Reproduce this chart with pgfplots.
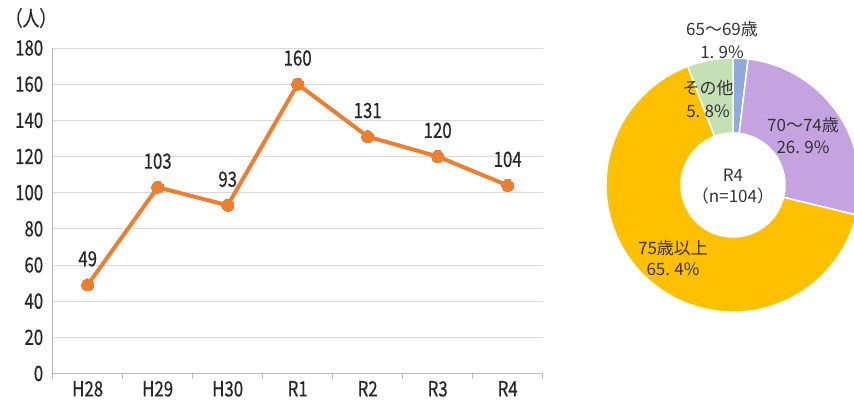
\documentclass[border=0pt]{standalone}
\usepackage{pgfplots}
\pgfplotsset{compat=1.18}
\usepackage{fontspec}
\setmainfont{Noto Sans CJK JP}[FakeStretch=0.8, FakeBold=0.4]
\newfontfamily\widefont{Noto Sans CJK JP}
\definecolor{lineor}{HTML}{ED7D31}
\definecolor{cblue}{HTML}{8FAADC}
\definecolor{cpurple}{HTML}{C5A3E0}
\definecolor{cgold}{HTML}{FFC000}
\definecolor{cgreen}{HTML}{C5E0B4}
\definecolor{txt}{HTML}{333333}
\newcommand{\donutwedge}[3]{%
  \fill[#3, draw=white, line width=1.5pt]
   ({127*cos(#1)},{127*sin(#1)}) arc[start angle=#1, end angle=#2, radius=127pt]
   -- ({52*cos(#2)},{52*sin(#2)}) arc[start angle=#2, end angle=#1, radius=52pt] -- cycle;}
\newcommand{\pc}[2]{#1.\hspace{0.25em}#2\%}
\begin{document}
\begin{tikzpicture}[x=1pt,y=1pt]
\path[use as bounding box] (0,0) rectangle (854,405);
\clip (0,0) rectangle (854,405);
\begin{axis}[
  at={(52.7pt,31.5pt)}, anchor=south west,
  scale only axis, width=490pt, height=325.5pt,
  xmin=-0.5, xmax=6.5, ymin=0, ymax=180,
  axis lines*=left,
  axis line style={draw=gray!55, line width=0.9pt},
  ymajorgrids, grid style={draw=gray!30, line width=0.8pt},
  ytick={0,20,...,180},
  xtick={0,...,6}, xticklabels={H28,H29,H30,R1,R2,R3,R4},
  minor xtick={-0.5,0.5,...,6.5},
  major tick length=0pt, minor tick length=5pt, tick align=outside,
  tick style={draw=gray!55, line width=0.9pt},
  ticklabel style={font=\fontsize{21}{25}\selectfont, text=black!85},
  yticklabel style={xshift=-6pt},
  xticklabel style={yshift=-4pt},
  /pgf/number format/assume math mode=true,
  clip=false,
]
\addplot[lineor, line width=4pt, mark=*, mark size=6pt,
  mark options={fill=lineor, draw=lineor, line width=0pt},
  nodes near coords,
  every node near coord/.append style={font=\fontsize{21}{25}\selectfont, text=black!85, yshift=15pt}]
  coordinates {(0,49) (1,103) (2,93) (3,160) (4,131) (5,120) (6,104)};
\end{axis}
\node[font=\fontsize{21}{25}\selectfont, text=black!85] at (31,387) {（人）};
% donut
\pgfmathsetmacro\aA{90}
\pgfmathsetmacro\aB{\aA-3.6*1.9}
\pgfmathsetmacro\aC{\aB-3.6*26.9}
\pgfmathsetmacro\aD{\aC-3.6*65.4}
\pgfmathsetmacro\aE{\aD-3.6*5.8}
\begin{axis}[at={(733pt,220pt)}, anchor=origin,
  x=1pt, y=1pt, xmin=-130, xmax=130, ymin=-130, ymax=130,
  hide axis, clip=false]
\donutwedge{\aA}{\aB}{cblue}
\donutwedge{\aB}{\aC}{cpurple}
\donutwedge{\aC}{\aD}{cgold}
\donutwedge{\aD}{\aE}{cgreen}
\end{axis}
\begin{scope}[every node/.style={font=\widefont\fontsize{17}{20}\selectfont, text=txt, inner sep=1pt}]
\node at (722,376) {65～69歳};
\node at (722,353) {\pc{1}{9}};
\node at (708,317) {その他};
\node at (708,294) {\pc{5}{8}};
\node at (803,280) {70～74歳};
\node at (803,258) {\pc{26}{9}};
\node at (673,157) {75歳以上};
\node at (673,136) {\pc{65}{4}};
\node at (733,230) {R4};
\node at (733,209) {（n=104）};
\end{scope}
\end{tikzpicture}
\end{document}
